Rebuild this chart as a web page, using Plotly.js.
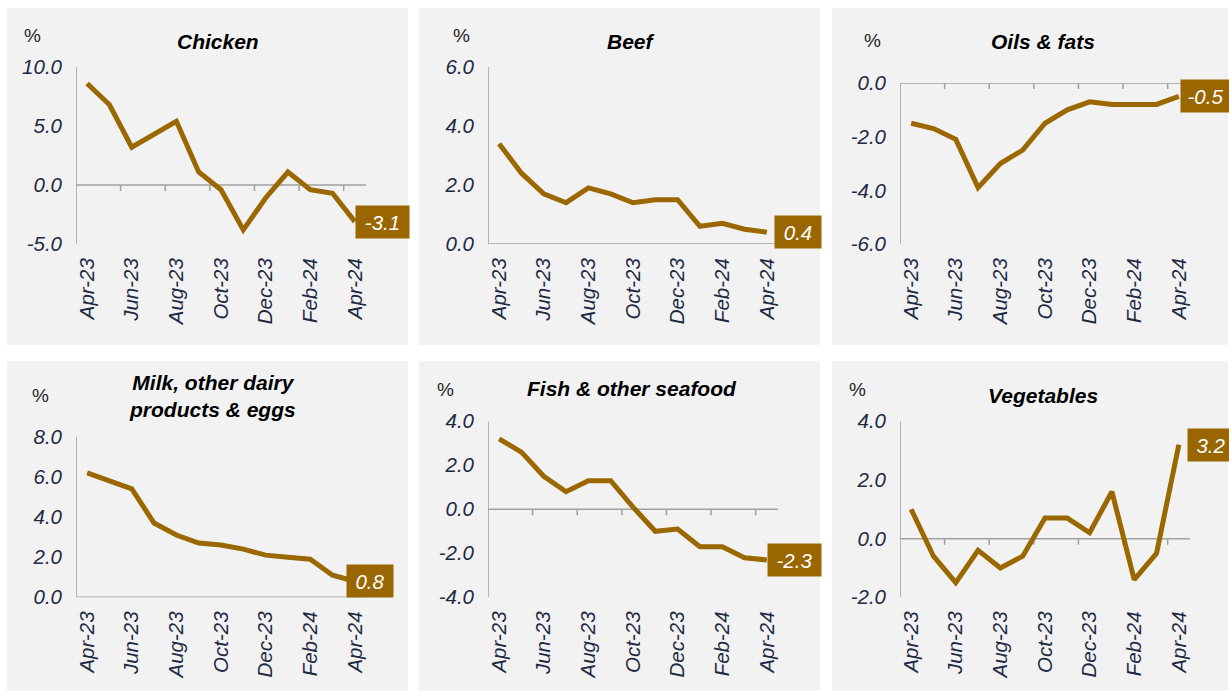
<!DOCTYPE html>
<html>
<head>
<meta charset="utf-8">
<script src="https://cdn.plot.ly/plotly-3.0.1.min.js"></script>
<style>html,body{margin:0;padding:0;background:#fff}#chart{width:1229px;height:691px}</style>
</head>
<body>
<div id="chart"></div>
<script>
// ---- data ----
var months = ['Apr-23','May-23','Jun-23','Jul-23','Aug-23','Sep-23','Oct-23','Nov-23','Dec-23','Jan-24','Feb-24','Mar-24','Apr-24'];
var titles = ['Chicken','Beef','Oils & fats','Milk, other dairy<br>products & eggs','Fish & other seafood','Vegetables'];
var chicken = [8.6, 6.8, 3.2, 4.3, 5.4, 1.1, -0.4, -3.8, -1.1, 1.1, -0.4, -0.7, -3.1];
var beef    = [3.4, 2.4, 1.7, 1.4, 1.9, 1.7, 1.4, 1.5, 1.5, 0.6, 0.7, 0.5, 0.4];
var oils    = [-1.5, -1.7, -2.1, -3.9, -3.0, -2.5, -1.5, -1.0, -0.7, -0.8, -0.8, -0.8, -0.5];
var milk    = [6.2, 5.8, 5.4, 3.7, 3.1, 2.7, 2.6, 2.4, 2.1, 2.0, 1.9, 1.1, 0.8];
var fish    = [3.2, 2.6, 1.5, 0.8, 1.3, 1.3, 0.1, -1.0, -0.9, -1.7, -1.7, -2.2, -2.3];
var veg     = [1.0, -0.6, -1.5, -0.4, -1.0, -0.6, 0.7, 0.7, 0.2, 1.6, -1.4, -0.5, 3.2];
var series = [chicken, beef, oils, milk, fish, veg];
var yTicks = [[-5, 0, 5, 10], [0, 2, 4, 6], [-6, -4, -2, 0], [0, 2, 4, 6, 8], [-4, -2, 0, 2, 4], [-2, 0, 2, 4]];

// ---- layout config (pixel geometry) ----
var W = 1229, H = 691;
var panels = [
  {box:[7,8,408,345],    plot:[76,67,366,244],      title:[218,41],  pct:[32,35],  lab:{dx:0, w:45}},
  {box:[419,8,820,345],  plot:[488,67,778,244],     title:[631,41],  pct:[461,35], lab:{dx:7, w:38}},
  {box:[832,8,1228,345], plot:[900,83,1190,244],    title:[1043,41], pct:[872,40], lab:{dx:1, w:41}},
  {box:[7,361,408,691],  plot:[76,436.7,366,597.3], title:[212,396], pct:[40,395], lab:{dx:-9, w:38}},
  {box:[419,361,820,691],plot:[488,421.3,778,597.3],title:[632,388], pct:[445,389],lab:{dx:0, w:45}},
  {box:[832,361,1228,691],plot:[900,421.3,1190,597.3],title:[1043,395],pct:[857,389],lab:{dx:8, w:38}}
];
var gold = '#9a6700', axisGrey = '#a0a0a0', navy = '#1e2a44';
var FONT = 'Liberation Sans, Arial, sans-serif';
var fx = function(x){return x / W;};
var fy = function(y){return 1 - y / H;};

var data = [], shapes = [], annotations = [];
var layout = {
  width: W, height: H, margin: {l:0, r:0, t:0, b:0},
  paper_bgcolor: '#ffffff', plot_bgcolor: 'rgba(0,0,0,0)',
  showlegend: false, font: {family: FONT}
};
var labelMonths = months.filter(function(m, i){return i % 2 === 0;});
var bounds = [];
for (var b = 1; b < months.length - 1; b += 2) bounds.push(b + 0.5);
var axLine = {color:axisGrey, width:1.5};

panels.forEach(function(p, k){
  var i = k + 1;
  var xr = 'x' + i, yr = 'y' + i;
  var vals = series[k], yt = yTicks[k];
  var ymin = yt[0], ymax = yt[yt.length - 1];
  var xlo = -0.5, xhi = months.length - 0.5;
  shapes.push({type:'rect', xref:'paper', yref:'paper', x0:fx(p.box[0]), x1:fx(p.box[2]), y0:fy(p.box[3]), y1:fy(p.box[1]),
    fillcolor:'#f2f2f2', line:{width:0}, layer:'below'});
  // horizontal category axis line at zero
  shapes.push({type:'line', xref:xr, yref:yr, x0:xlo, x1:xhi, y0:0, y1:0, line:axLine, layer:'below'});
  // category-boundary tick marks hanging from the zero line
  bounds.forEach(function(bv){
    shapes.push({type:'line', xref:xr, yref:yr, ysizemode:'pixel', yanchor:0, x0:bv, x1:bv, y0:0, y1:-6, line:axLine, layer:'below'});
  });
  // vertical value axis line and its tick marks
  shapes.push({type:'line', xref:xr, yref:yr, x0:xlo, x1:xlo, y0:ymin, y1:ymax, line:axLine, layer:'below'});
  yt.forEach(function(tv){
    shapes.push({type:'line', xref:xr, yref:yr, xsizemode:'pixel', xanchor:xlo, x0:0, x1:-5, y0:tv, y1:tv, line:axLine, layer:'below'});
  });
  data.push({type:'scatter', mode:'lines', x: months, y: vals, xaxis:xr, yaxis:yr,
    line:{color: gold, width: 5}, hoverinfo:'skip', cliponaxis:false});
  layout['xaxis'+i] = {domain:[fx(p.plot[0]), fx(p.plot[2])], anchor:yr, type:'category', range:[xlo, xhi],
    tickmode:'array', tickvals: labelMonths, ticktext: labelMonths, ticks:'', showline:false,
    showgrid:false, zeroline:false, tickangle:-90, ticklabelstandoff: 9,
    tickfont:{family:FONT, size:20.5, color:navy, style:'italic'}};
  layout['yaxis'+i] = {domain:[fy(p.plot[3]), fy(p.plot[1])], anchor:xr, range:[ymin, ymax], tickmode:'array', tickvals: yt,
    ticktext: yt.map(function(v){return v.toFixed(1);}), ticks:'', showline:false, showgrid:false, zeroline:false,
    ticklabelstandoff: 13,
    tickfont:{family:FONT, size:20.5, color:navy, style:'italic'}};
  annotations.push({xref:'paper', yref:'paper', x:fx(p.title[0]), y:fy(p.title[1]), xanchor:'center', yanchor:'middle',
    text:'<b><i>' + titles[k] + '</i></b>', showarrow:false, font:{family:FONT, size:21, color:'#000000'}});
  annotations.push({xref:'paper', yref:'paper', x:fx(p.pct[0]), y:fy(p.pct[1]), xanchor:'center', yanchor:'middle',
    text:'%', showarrow:false, font:{family:FONT, size:19, color:'#262626'}});
  annotations.push({xref:xr, yref:yr, x: months[months.length - 1], y: vals[vals.length - 1],
    xanchor:'left', yanchor:'middle', xshift: p.lab.dx, showarrow:false,
    text:'<i>' + vals[vals.length - 1].toFixed(1) + '</i>', bgcolor:'#996600', borderpad:4,
    width: p.lab.w, height: 24, align:'center', font:{family:FONT, size:20.5, color:'#ffffff'}});
});
layout.shapes = shapes;
layout.annotations = annotations;
Plotly.newPlot('chart', data, layout, {staticPlot:true, displayModeBar:false});
</script>
</body>
</html>
